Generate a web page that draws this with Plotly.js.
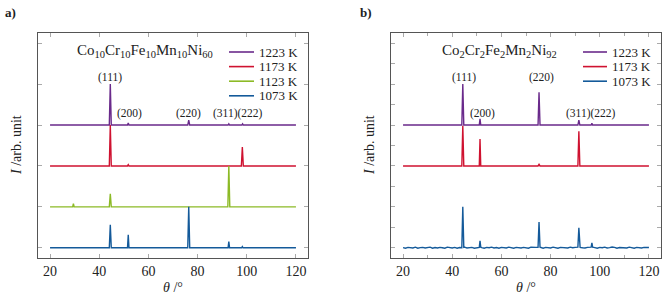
<!DOCTYPE html>
<html>
<head>
<meta charset="utf-8">
<script src="https://cdn.plot.ly/plotly-3.0.1.min.js"></script>
<style>html,body{margin:0;padding:0;background:#fff}#chart{width:664px;height:301px}</style>
</head>
<body>
<div id="chart"></div>
<script>
// ---------- data (normalised intensity) ----------
const seriesNames = ['1223 K', '1173 K', '1123 K', '1073 K'];
const stackOffsets = [3, 2, 1, 0];

// panel a) Co10Cr10Fe10Mn10Ni60
const a1223_x = [20, 44.1, 44.5, 44.9, 51.5, 51.8, 52.1, 76.0, 76.4, 76.8, 92.4, 92.7, 93.0, 98.0, 98.3, 98.6, 120];
const a1223_y = [0, 0, 1.0, 0, 0, 0.05, 0, 0, 0.12, 0, 0, 0.03, 0, 0, 0.03, 0, 0];
const a1173_x = [20, 44.1, 44.5, 44.9, 51.5, 51.8, 52.1, 97.8, 98.2, 98.6, 120];
const a1173_y = [0, 0, 1.0, 0, 0, 0.03, 0, 0, 0.46, 0, 0];
const a1123_x = [20, 29.2, 29.5, 29.8, 44.1, 44.5, 44.9, 92.3, 92.7, 93.1, 120];
const a1123_y = [0, 0, 0.08, 0, 0, 0.32, 0, 0, 1.0, 0, 0];
const a1073_x = [20, 44.1, 44.5, 44.9, 51.5, 51.8, 52.1, 76.0, 76.4, 76.8, 92.4, 92.7, 93.0, 97.9, 98.2, 98.5, 120];
const a1073_y = [0, 0, 0.56, 0, 0, 0.32, 0, 0, 1.0, 0, 0, 0.15, 0, 0, 0.03, 0, 0];

// panel b) Co2Cr2Fe2Mn2Ni92
const b1223_x = [20, 43.9, 44.3, 44.7, 51.0, 51.3, 51.6, 74.9, 75.3, 75.7, 91.1, 91.5, 91.9, 96.5, 96.8, 97.1, 120];
const b1223_y = [0, 0, 1.0, 0, 0, 0.15, 0, 0, 0.80, 0, 0, 0.12, 0, 0, 0.04, 0, 0];
const b1173_x = [20, 43.9, 44.3, 44.7, 51.0, 51.3, 51.6, 74.9, 75.3, 75.7, 91.1, 91.5, 91.9, 120];
const b1173_y = [0, 0, 0.98, 0, 0, 0.66, 0, 0, 0.04, 0, 0, 0.85, 0, 0];
const b1073_x = [20,21,22,23,24,25,26,27,28,29,30,31,32,33,34,35,36,37,38,39,40,41,42,43,
  43.9,44.3,44.7, 45,46,47,48,49,50, 51.0,51.3,51.6,
  52,53,54,55,56,57,58,59,60,61,62,63,64,65,66,67,68,69,70,71,72,73,74,
  74.9,75.3,75.7, 76,77,78,79,80,81,82,83,84,85,86,87,88,89,90,
  91.1,91.5,91.9, 92,93,94,95,96, 96.5,96.8,97.1,
  98,99,100,101,102,103,104,105,106,107,108,109,110,111,112,113,114,115,116,117,118,119,120];
const b1073_y = [0.005,-0.01,0.01,0.00,-0.005,0.015,-0.01,0.005,0.01,-0.005,0.00,0.015,-0.01,0.005,-0.005,0.01,0.00,-0.01,0.015,0.005,-0.005,0.01,-0.01,0.005,
  0.0,1.0,0.01, 0.015,-0.005,0.005,0.01,-0.01,0.005, 0.01,0.17,0.015,
  0.005,-0.01,0.01,0.00,0.015,-0.005,0.005,-0.01,0.01,0.005,-0.005,0.015,0.00,-0.01,0.01,0.005,-0.005,0.01,0.00,-0.01,0.015,0.005,0.01,
  0.01,0.63,0.015, 0.005,-0.01,0.01,0.00,-0.005,0.015,0.005,-0.01,0.01,0.00,0.005,-0.005,0.015,0.00,0.01,
  0.015,0.49,0.03, 0.01,0.00,-0.005,0.01,0.005, 0.015,0.12,0.015,
  0.005,-0.01,0.01,0.00,0.015,-0.005,0.005,0.02,0.01,-0.01,0.005,0.00,0.01,-0.005,0.015,0.00,-0.01,0.01,0.005,-0.005,0.01,0.00,0.005];

const xTickVals = [20, 40, 60, 80, 100, 120];
const peakLabels = ['(111)', '(200)', '(220)', '(311)(222)'];
const peakLabelA_x = [44.4, 52.5, 76.5, 96.4];
const peakLabelA_y = [4.17, 3.29, 3.29, 3.29];
const peakLabelB_x = [44.8, 52.5, 76.5, 96.4];
const peakLabelB_y = [4.17, 3.29, 4.17, 3.29];
const legendA = ['1223 K', '1173 K', '1123 K', '1073 K'];
const legendB = ['1223 K', '1173 K', '1073 K'];

// ---------- styling ----------
const colors = {'1223 K': '#6a2a8b', '1173 K': '#cf1230', '1123 K': '#8cba26', '1073 K': '#145a9a'};
const serif = 'Liberation Serif';
const W = 664, H = 301;

function trace(xs, ys, name, off, xa, ya) {
  return {x: xs, y: ys.map(v => v + off), name: name, type: 'scatter', mode: 'lines',
    xaxis: xa, yaxis: ya, showlegend: false,
    line: {color: colors[name], width: 1.4}};
}

const data = [
  trace(a1223_x, a1223_y, seriesNames[0], stackOffsets[0], 'x', 'y'),
  trace(a1173_x, a1173_y, seriesNames[1], stackOffsets[1], 'x', 'y'),
  trace(a1123_x, a1123_y, seriesNames[2], stackOffsets[2], 'x', 'y'),
  trace(a1073_x, a1073_y, seriesNames[3], stackOffsets[3], 'x', 'y'),
  trace(b1223_x, b1223_y, seriesNames[0], stackOffsets[0], 'x2', 'y2'),
  trace(b1173_x, b1173_y, seriesNames[1], stackOffsets[1], 'x2', 'y2'),
  trace(b1073_x, b1073_y, seriesNames[3], stackOffsets[3], 'x2', 'y2')
];

const axisBase = {showline: true, linecolor: '#555', linewidth: 1, mirror: 'allticks',
  ticks: 'inside', ticklen: 4, tickcolor: '#aaa', tickwidth: 1, showgrid: false, zeroline: false,
  tickfont: {family: serif, size: 14, color: '#222'}};

const xdomA = [38 / W, 308 / W], xdomB = [391 / W, 661 / W];
const ydom = [1 - 258 / H, 1 - 33 / H];

const annotations = [];
const shapes = [];
function ann(text, x, y, xref, yref, size, extra) {
  annotations.push(Object.assign({text: text, x: x, y: y, xref: xref, yref: yref, showarrow: false,
    xanchor: 'center', yanchor: 'middle',
    font: {family: serif, size: size, color: '#222'}}, extra || {}));
}
peakLabels.forEach((t, i) => {
  ann(t, peakLabelA_x[i], peakLabelA_y[i], 'x', 'y', 11.5, {});
  ann(t, peakLabelB_x[i], peakLabelB_y[i], 'x2', 'y2', 11.5, {});
});
ann('Co<sub>10</sub>Cr<sub>10</sub>Fe<sub>10</sub>Mn<sub>10</sub>Ni<sub>60</sub>', 145 / W, 1 - 51 / H, 'paper', 'paper', 15, {});
ann('Co<sub>2</sub>Cr<sub>2</sub>Fe<sub>2</sub>Mn<sub>2</sub>Ni<sub>92</sub>', 499 / W, 1 - 51 / H, 'paper', 'paper', 15, {});
ann('<b>a)</b>', 3 / W, 1 - 12 / H, 'paper', 'paper', 13, {xanchor: 'left'});
ann('<b>b)</b>', 358 / W, 1 - 12 / H, 'paper', 'paper', 13, {xanchor: 'left'});
ann('<i>I</i> /arb. unit', 17 / W, 1 - 145 / H, 'paper', 'paper', 14, {textangle: -90});
ann('<i>I</i> /arb. unit', 370 / W, 1 - 145 / H, 'paper', 'paper', 14, {textangle: -90});
ann('<i>θ</i> /°', 173 / W, 1 - 287 / H, 'paper', 'paper', 14, {});
ann('<i>θ</i> /°', 526 / W, 1 - 287 / H, 'paper', 'paper', 14, {});

// legend drawn as line samples + labels (compact spacing as in the reference)
function legend(names, x0, x1, yTop) {
  names.forEach((n, i) => {
    const y = 1 - (yTop + i * 14.6) / H;
    shapes.push({type: 'line', xref: 'paper', yref: 'paper', x0: x0 / W, x1: x1 / W, y0: y, y1: y,
      line: {color: colors[n], width: 1.6}});
    ann(n, (x1 + 3) / W, y, 'paper', 'paper', 13, {xanchor: 'left'});
  });
}
legend(legendA, 229, 254, 52);
legend(legendB, 583, 607, 52);

const layout = {
  width: W, height: H, margin: {l: 0, r: 0, t: 0, b: 0},
  paper_bgcolor: '#fff', plot_bgcolor: '#fff', showlegend: false,
  xaxis: Object.assign({}, axisBase, {domain: xdomA, anchor: 'y', range: [15.1, 124.9], tickvals: xTickVals}),
  yaxis: Object.assign({}, axisBase, {domain: ydom, anchor: 'x', range: [-0.25, 5.25], tickvals: [0, 1, 2, 3, 4, 5], showticklabels: false}),
  xaxis2: Object.assign({}, axisBase, {domain: xdomB, anchor: 'y2', range: [15.1, 124.9], tickvals: xTickVals,
    minor: {tickvals: [30, 50, 70, 90, 110], ticks: 'inside', ticklen: 3, tickcolor: '#aaa'}}),
  yaxis2: Object.assign({}, axisBase, {domain: ydom, anchor: 'x2', range: [-0.25, 5.25], tickvals: [0, 0.5, 1, 1.5, 2, 2.5, 3, 3.5, 4, 4.5, 5], showticklabels: false}),
  annotations: annotations,
  shapes: shapes
};

Plotly.newPlot('chart', data, layout, {displayModeBar: false, staticPlot: true});
</script>
</body>
</html>
